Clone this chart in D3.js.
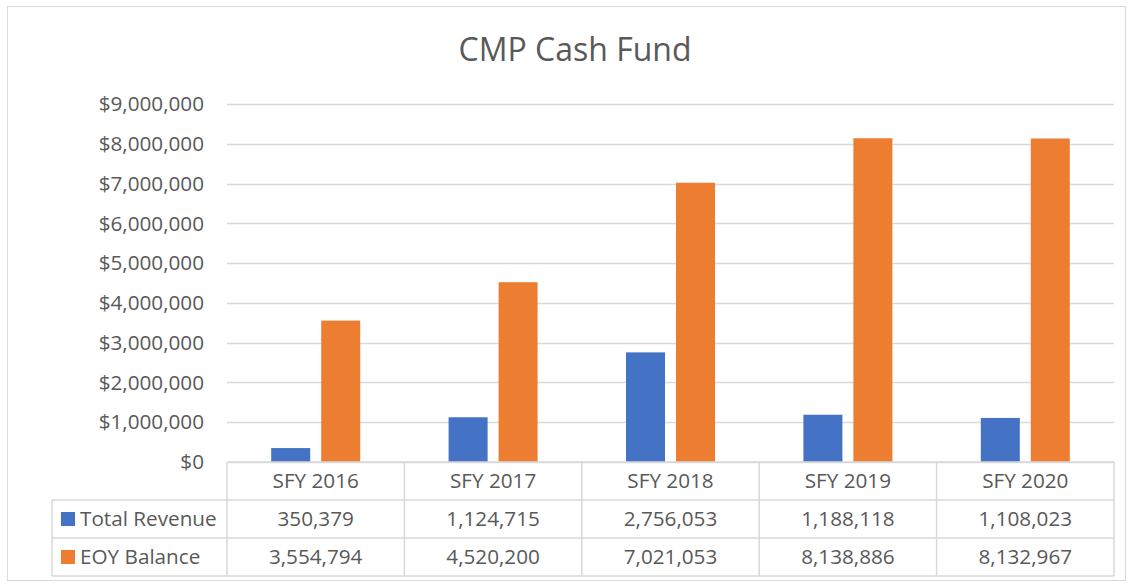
<!DOCTYPE html>
<html>
<head>
<meta charset="utf-8">
<script src="https://cdn.jsdelivr.net/npm/d3@7"></script>
<style>
  body { margin: 0; background: #fff; }
  text { font-family: "Open Sans", "Noto Sans", sans-serif; fill: #595959; }
</style>
</head>
<body>
<div id="chart"></div>
<script>
// data
var categories = ['SFY 2016', 'SFY 2017', 'SFY 2018', 'SFY 2019', 'SFY 2020'];
var seriesNames = ['Total Revenue', 'EOY Balance'];
var totalRevenue = [350379, 1124715, 2756053, 1188118, 1108023];
var eoyBalance = [3554794, 4520200, 7021053, 8138886, 8132967];
var yTicks = [0, 1000000, 2000000, 3000000, 4000000, 5000000, 6000000, 7000000, 8000000, 9000000];

var colors = ['#4472C4', '#ED7D31'];
var gridColor = '#d9d9d9';

var svgWidth = 1129;
var svgHeight = 585;

var plotLeft = 227, plotRight = 1114, plotTop = 104, plotBottom = 462;
var rowH = 38;
var tableLeft = 52;
var fontSize = '20.7px';

var svg = d3.select('#chart')
  .append('svg')
  .attr('width', svgWidth)
  .attr('height', svgHeight);

// outer border
svg.append('rect')
  .attr('x', 7.5).attr('y', 6.5)
  .attr('width', 1118).attr('height', 574)
  .attr('fill', '#fff')
  .attr('stroke', gridColor);

// title
svg.append('text')
  .attr('x', 575)
  .attr('y', 61)
  .attr('text-anchor', 'middle')
  .style('font-size', '32px')
  .text('CMP Cash Fund');

var xScale = d3.scaleBand()
  .domain(categories)
  .range([plotLeft, plotRight]);

var yScale = d3.scaleLinear()
  .domain([0, 9000000])
  .range([plotBottom, plotTop]);

// gridlines
svg.append('g')
  .selectAll('line')
  .data(yTicks)
  .join('line')
  .attr('x1', plotLeft).attr('x2', plotRight)
  .attr('y1', d => Math.round(yScale(d)) + 0.5)
  .attr('y2', d => Math.round(yScale(d)) + 0.5)
  .attr('stroke', gridColor)
  .attr('stroke-width', 1.5);

// y labels
var fmt = d3.format('$,');
svg.append('g')
  .selectAll('text')
  .data(yTicks)
  .join('text')
  .attr('x', plotLeft - 23)
  .attr('y', d => yScale(d))
  .attr('dy', '0.35em')
  .attr('text-anchor', 'end')
  .style('font-size', fontSize)
  .text(d => fmt(d));

// bars
var barW = 39, gap = 11;
var seriesData = [totalRevenue, eoyBalance];
seriesData.forEach(function (vals, s) {
  svg.append('g')
    .selectAll('rect')
    .data(vals)
    .join('rect')
    .attr('x', (d, i) => {
      var c = xScale(categories[i]) + xScale.bandwidth() / 2;
      return s === 0 ? c - gap / 2 - barW : c + gap / 2;
    })
    .attr('y', d => yScale(d))
    .attr('width', barW)
    .attr('height', d => plotBottom - yScale(d))
    .attr('fill', colors[s]);
});

// data table
var tbl = svg.append('g');
var tableBottom = plotBottom + rowH * 3;

// horizontal lines
tbl.append('line')
  .attr('x1', plotLeft).attr('x2', plotRight)
  .attr('y1', plotBottom).attr('y2', plotBottom)
  .attr('stroke', gridColor).attr('stroke-width', 1.5);
[1, 2, 3].forEach(function (r) {
  tbl.append('line')
    .attr('x1', tableLeft).attr('x2', plotRight)
    .attr('y1', plotBottom + rowH * r).attr('y2', plotBottom + rowH * r)
    .attr('stroke', gridColor).attr('stroke-width', 1.5);
});

// vertical lines
tbl.append('line')
  .attr('x1', tableLeft).attr('x2', tableLeft)
  .attr('y1', plotBottom + rowH).attr('y2', tableBottom)
  .attr('stroke', gridColor).attr('stroke-width', 1.5);
categories.concat(['end']).forEach(function (c, i) {
  var x = i < categories.length ? xScale(c) : plotRight;
  tbl.append('line')
    .attr('x1', x).attr('x2', x)
    .attr('y1', plotBottom).attr('y2', tableBottom)
    .attr('stroke', gridColor).attr('stroke-width', 1.5);
});

// category labels
tbl.selectAll('.cat')
  .data(categories)
  .join('text')
  .attr('class', 'cat')
  .attr('x', d => xScale(d) + xScale.bandwidth() / 2)
  .attr('y', plotBottom + rowH / 2)
  .attr('dy', '0.35em')
  .attr('text-anchor', 'middle')
  .style('font-size', fontSize)
  .text(d => d);

// series rows
var numFmt = d3.format(',');
seriesData.forEach(function (vals, s) {
  var yMid = plotBottom + rowH * (s + 1) + rowH / 2;
  tbl.append('rect')
    .attr('x', 61).attr('y', yMid - 7)
    .attr('width', 14).attr('height', 14)
    .attr('fill', colors[s]);
  tbl.append('text')
    .attr('x', 80)
    .attr('y', yMid)
    .attr('dy', '0.35em')
    .style('font-size', fontSize)
    .text(seriesNames[s]);
  tbl.append('g')
    .selectAll('text')
    .data(vals)
    .join('text')
    .attr('x', (d, i) => xScale(categories[i]) + xScale.bandwidth() / 2)
    .attr('y', yMid)
    .attr('dy', '0.35em')
    .attr('text-anchor', 'middle')
    .style('font-size', fontSize)
    .text(d => numFmt(d));
});
</script>
</body>
</html>
